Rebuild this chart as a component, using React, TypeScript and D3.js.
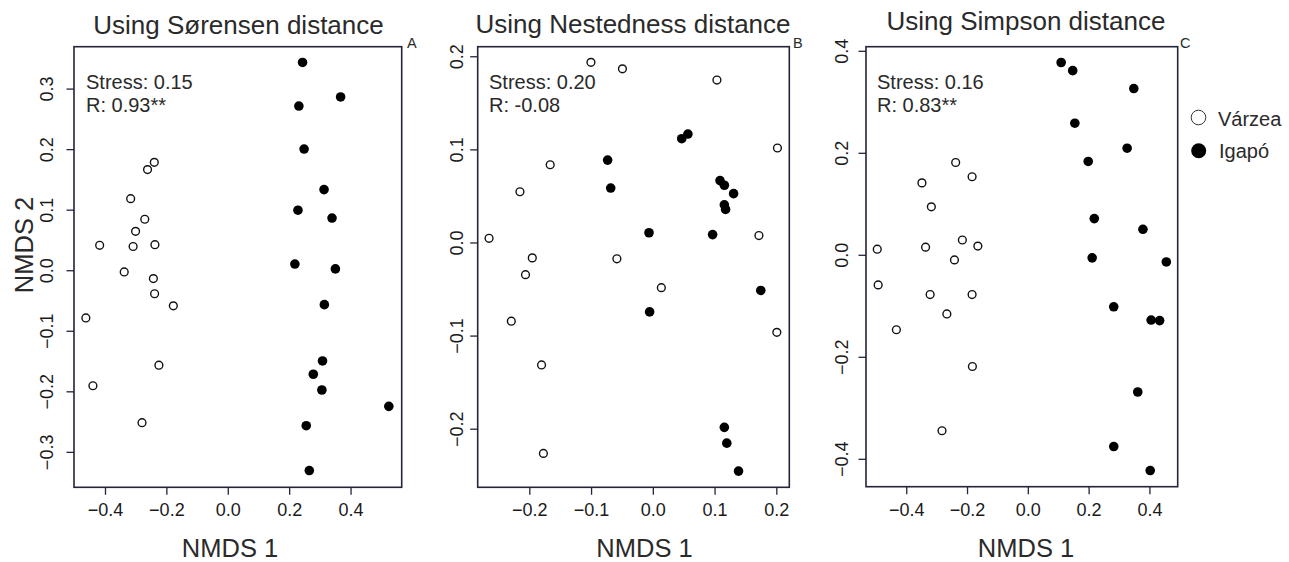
import React from "react";
import * as d3 from "d3";

// ---------- data ----------
const titles = ["Using Sørensen distance", "Using Nestedness distance", "Using Simpson distance"];
const panelLetters = ["A", "B", "C"];
const stressLabels = ["Stress: 0.15", "Stress: 0.20", "Stress: 0.16"];
const rLabels = ["R: 0.93**", "R: -0.08", "R: 0.83**"];
const legendLabels = ["Várzea", "Igapó"];

const xTicksA = [-0.4, -0.2, 0.0, 0.2, 0.4];
const yTicksA = [-0.3, -0.2, -0.1, 0.0, 0.1, 0.2, 0.3];
const xTicksB = [-0.2, -0.1, 0.0, 0.1, 0.2];
const yTicksB = [-0.2, -0.1, 0.0, 0.1, 0.2];
const xTicksC = [-0.4, -0.2, 0.0, 0.2, 0.4];
const yTicksC = [-0.4, -0.2, 0.0, 0.2, 0.4];

// Panel A (Sørensen): [NMDS1, NMDS2]
const varzeaA: [number, number][] = [
  [-0.241, 0.179], [-0.263, 0.167], [-0.318, 0.119], [-0.272, 0.085],
  [-0.302, 0.065], [-0.419, 0.042], [-0.31, 0.04], [-0.239, 0.043],
  [-0.339, -0.002], [-0.244, -0.013], [-0.24, -0.038], [-0.179, -0.058],
  [-0.464, -0.078], [-0.226, -0.156], [-0.441, -0.19], [-0.281, -0.251],
];
const igapoA: [number, number][] = [
  [0.242, 0.344], [0.366, 0.287], [0.23, 0.272], [0.247, 0.201],
  [0.312, 0.134], [0.227, 0.1], [0.338, 0.087], [0.217, 0.011],
  [0.349, 0.003], [0.313, -0.056], [0.307, -0.149], [0.277, -0.171],
  [0.305, -0.197], [0.523, -0.224], [0.254, -0.256], [0.264, -0.33],
];

// Panel B (Nestedness)
const varzeaB: [number, number][] = [
  [-0.101, 0.194], [-0.05, 0.187], [0.103, 0.175], [0.201, 0.102],
  [-0.167, 0.084], [-0.216, 0.055], [-0.266, 0.005], [0.171, 0.008],
  [-0.196, -0.016], [-0.059, -0.017], [-0.207, -0.034], [0.013, -0.048],
  [-0.23, -0.084], [0.2, -0.096], [-0.181, -0.131], [-0.178, -0.226],
];
const igapoB: [number, number][] = [
  [0.046, 0.112], [0.056, 0.117], [-0.074, 0.089], [-0.069, 0.059],
  [0.108, 0.067], [0.115, 0.062], [0.13, 0.053], [0.115, 0.041],
  [0.117, 0.036], [-0.007, 0.011], [0.096, 0.009], [0.174, -0.051],
  [-0.006, -0.074], [0.115, -0.198], [0.119, -0.215], [0.138, -0.245],
];

// Panel C (Simpson)
const varzeaC: [number, number][] = [
  [-0.239, 0.182], [-0.185, 0.154], [-0.35, 0.142], [-0.319, 0.095],
  [-0.497, 0.012], [-0.338, 0.016], [-0.217, 0.03], [-0.166, 0.018],
  [-0.243, -0.009], [-0.494, -0.058], [-0.323, -0.077], [-0.185, -0.077],
  [-0.268, -0.115], [-0.434, -0.146], [-0.184, -0.218], [-0.284, -0.344],
];
const igapoC: [number, number][] = [
  [0.108, 0.378], [0.146, 0.362], [0.347, 0.327], [0.153, 0.259],
  [0.325, 0.21], [0.197, 0.184], [0.217, 0.072], [0.377, 0.051],
  [0.21, -0.005], [0.454, -0.013], [0.281, -0.101], [0.404, -0.127],
  [0.432, -0.128], [0.36, -0.268], [0.281, -0.375], [0.401, -0.422],
];

const xDomains: [number, number][] = [[-0.5026, 0.565], [-0.2844, 0.2202], [-0.534, 0.4914]];
const yDomains: [number, number][] = [[-0.3577, 0.37], [-0.2624, 0.2108], [-0.4537, 0.409]];

// ---------- layout ----------
const W = 1289;
const H = 562;
const FONT = "'Liberation Sans', Arial, Helvetica, sans-serif";
const BOX = "#24243a";

interface PanelLayout {
  left: number; right: number; top: number; bottom: number;
  titleX: number; titleY: number; xTitleX: number;
  yLabelX: number; letterX: number; textX: number;
}
const layouts: PanelLayout[] = [
  { left: 74, right: 401.7, top: 46.7, bottom: 487.3, titleX: 238.5, titleY: 34, xTitleX: 230, yLabelX: 53, letterX: 407, textX: 86 },
  { left: 477.7, right: 789.3, top: 46.7, bottom: 487.3, titleX: 633, titleY: 33, xTitleX: 644.5, yLabelX: 462.5, letterX: 793, textX: 489 },
  { left: 866, right: 1177.7, top: 46.7, bottom: 486.7, titleX: 1026, titleY: 30, xTitleX: 1026, yLabelX: 848, letterX: 1180, textX: 877 },
];

const fmt = (v: number) => (Math.abs(v) < 1e-9 ? "0.0" : d3.format(".1f")(v));

function Panel({ i, xt, yt, open, filled }: {
  i: number; xt: number[]; yt: number[];
  open: [number, number][]; filled: [number, number][];
}) {
  const L = layouts[i];
  const x = d3.scaleLinear().domain(xDomains[i]).range([L.left, L.right]);
  const y = d3.scaleLinear().domain(yDomains[i]).range([L.bottom, L.top]);
  const tickLen = 7.5;
  return (
    <g>
      <text x={L.titleX} y={L.titleY} textAnchor="middle" fontSize={26} fill="#2a2a2a" fontFamily={FONT}>
        {titles[i]}
      </text>
      <text x={L.letterX} y={48} fontSize={14.5} fill="#2a2a2a" fontFamily={FONT}>{panelLetters[i]}</text>
      <rect x={L.left} y={L.top} width={L.right - L.left} height={L.bottom - L.top}
        fill="none" stroke={BOX} strokeWidth={1.6} />
      {/* x axis */}
      {xt.map((t) => (
        <g key={"x" + t}>
          <line x1={x(t)} x2={x(t)} y1={L.bottom} y2={L.bottom + tickLen} stroke={BOX} strokeWidth={1.3} />
          <text x={x(t)} y={515.5} textAnchor="middle" fontSize={18} fill="#1a1a1a" fontFamily={FONT}>{fmt(t)}</text>
        </g>
      ))}
      {/* y axis */}
      {yt.map((t) => (
        <g key={"y" + t}>
          <line x1={L.left - tickLen} x2={L.left} y1={y(t)} y2={y(t)} stroke={BOX} strokeWidth={1.3} />
          <text transform={`translate(${L.yLabelX},${y(t)}) rotate(-90)`} textAnchor="middle"
            fontSize={18} fill="#1a1a1a" fontFamily={FONT}>{fmt(t)}</text>
        </g>
      ))}
      <text x={L.xTitleX} y={557} textAnchor="middle" fontSize={25.5} fill="#2a2a2a" fontFamily={FONT}>NMDS 1</text>
      <text x={L.textX} y={89} fontSize={20} fill="#2a2a2a" fontFamily={FONT}>{stressLabels[i]}</text>
      <text x={L.textX} y={111.5} fontSize={20} fill="#2a2a2a" fontFamily={FONT}>{rLabels[i]}</text>
      {open.map((p, k) => (
        <circle key={"o" + k} cx={x(p[0])} cy={y(p[1])} r={3.9} fill="white" stroke="#111" strokeWidth={1.4} />
      ))}
      {filled.map((p, k) => (
        <circle key={"f" + k} cx={x(p[0])} cy={y(p[1])} r={4.8} fill="#000" />
      ))}
    </g>
  );
}

export default function App() {
  return (
    <svg width={W} height={H} style={{ position: "absolute", left: 0, top: 0, background: "white" }}>
      <rect x={0} y={0} width={W} height={H} fill="white" />
      <Panel i={0} xt={xTicksA} yt={yTicksA} open={varzeaA} filled={igapoA} />
      <Panel i={1} xt={xTicksB} yt={yTicksB} open={varzeaB} filled={igapoB} />
      <Panel i={2} xt={xTicksC} yt={yTicksC} open={varzeaC} filled={igapoC} />
      <text transform={`translate(33,245) rotate(-90)`} textAnchor="middle" fontSize={25.5} fill="#2a2a2a" fontFamily={FONT}>
        NMDS 2
      </text>
      {/* legend */}
      <circle cx={1198.5} cy={117.5} r={7.3} fill="white" stroke="#333" strokeWidth={1} />
      <text x={1218} y={126} fontSize={20} fill="#2a2a2a" fontFamily={FONT}>{legendLabels[0]}</text>
      <circle cx={1198.7} cy={150.7} r={7.5} fill="#000" />
      <text x={1219} y={158} fontSize={20} fill="#2a2a2a" fontFamily={FONT}>{legendLabels[1]}</text>
    </svg>
  );
}
